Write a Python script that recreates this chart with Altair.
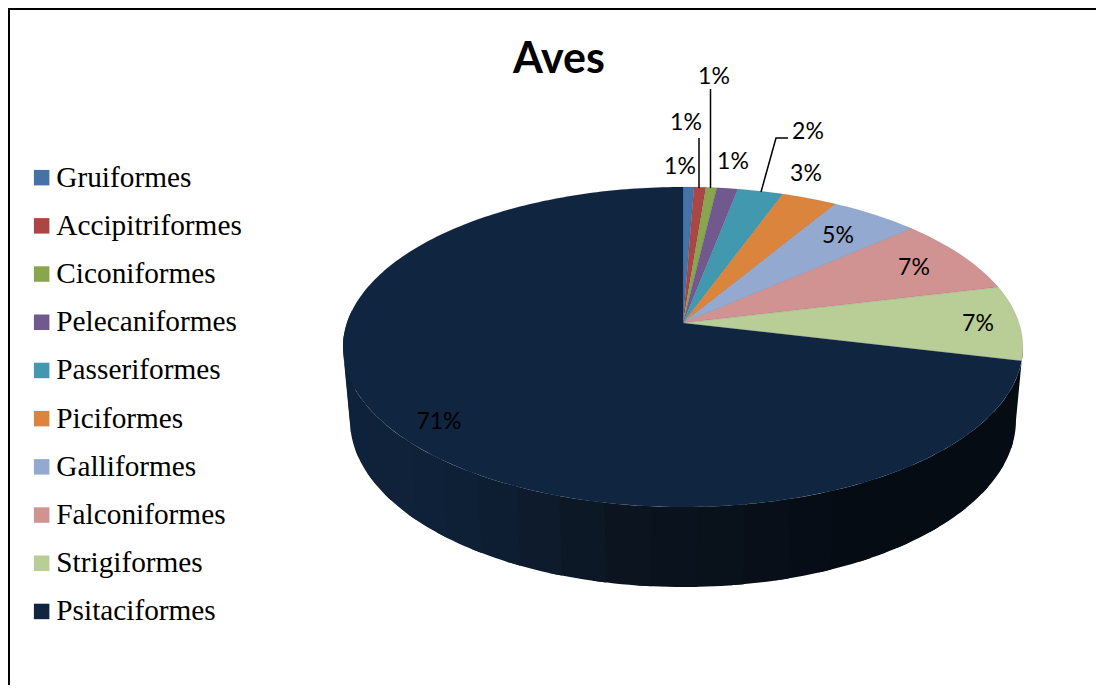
import math
import altair as alt

# ---- data ----
names = ["Gruiformes", "Accipitriformes", "Ciconiformes", "Pelecaniformes", "Passeriformes",
         "Piciformes", "Galliformes", "Falconiformes", "Strigiformes", "Psitaciformes"]
shares = [0.6, 0.65, 0.6, 1.15, 2.5, 3.05, 4.9, 7.75, 7.55, 71.25]
percent_labels = ["1%", "1%", "1%", "1%", "2%", "3%", "5%", "7%", "7%", "71%"]
colors = ["#4572A7", "#AA4643", "#89A54E", "#71588F", "#4198AF",
          "#DB843D", "#93A9CF", "#D19392", "#B9CD96", "#10253F"]
label_x = [680, 686, 714, 733, 808, 806, 838, 914, 978, 439]
label_y = [167, 123, 77, 162, 132, 174, 236, 268, 324, 422]
leaders = {"a": [(699, 188), (699, 138)],
           "b": [(710.5, 188), (710.5, 89)],
           "c": [(761, 192), (776, 138), (788, 138)]}
# side wall shades, from the right end of the wall round to its left end
wall_shades = ["#060c14", "#060c14", "#060c14", "#060c14", "#060c14", "#060c14",
               "#060c14", "#060c14", "#070d16", "#080f19", "#09111b", "#0a121d",
               "#0b141f", "#0c1825", "#0d1b2c", "#0e1e32", "#0e2036", "#0f2138",
               "#0f223a", "#0f223a", "#0f223b", "#0f223b", "#0f223b", "#0f223b"]

OFF = 8          # page margin
CX, CY = 683, 323  # apex of the pie on the page
A, B, K = 336, 156.4, 0.15  # perspective of the disc


def disc(frac):
    t = 2 * math.pi * frac
    u, v = math.sin(t), -math.cos(t)
    w = 1 - K * v
    return (CX + A * u / w - OFF, CY + B * v / w - OFF)


def arc_points(f0, f1):
    n = max(2, int(abs(f1 - f0) * 360))
    return [disc(f0 + (f1 - f0) * i / n) for i in range(n + 1)]


def feature(coords, **props):
    return {"type": "Feature", "properties": props,
            "geometry": {"type": "Polygon", "coordinates": [[list(p) for p in coords]]}}


total = sum(shares)
fracs = [sum(shares[:i]) / total for i in range(len(shares) + 1)]
slices = []
for i, name in enumerate(names):
    pts = [(CX - OFF, CY - OFF)] + arc_points(fracs[i], fracs[i + 1])
    slices.append(feature(pts + [pts[0]], name=name))


def ellipse(cy, rx, ry, frac):
    t = 2 * math.pi * frac
    return (683 + rx * math.sin(t) - OFF, cy - ry * math.cos(t) - OFF)


walls = []
segs = len(wall_shades)
for i, shade in enumerate(wall_shades):
    # each strip overlaps the next a little so that no seam shows
    f0 = 0.25 + (0.78 - 0.25) * i / segs
    f1 = 0.25 + (0.78 - 0.25) * (i + 1.3) / segs
    top = [ellipse(347, 340, 160, f0 + (f1 - f0) * j / 8) for j in range(9)]
    bot = [ellipse(420, 333, 167, f0 + (f1 - f0) * j / 8) for j in range(9)]
    poly = top + bot[::-1]
    walls.append(feature(poly + [poly[0]], shade=shade))

proj = alt.Projection(type="identity", scale=1, translate=[0, 0]).to_dict()

wall_layer = alt.Chart(alt.Data(values=walls)).mark_geoshape(strokeWidth=0).encode(
    fill=alt.Fill("properties.shade:N", scale=None),
).project(**proj)

slice_layer = alt.Chart(alt.Data(values=slices)).mark_geoshape(
    strokeWidth=0.3, stroke="#20304a", strokeOpacity=0.35
).encode(
    color=alt.Color("properties.name:N",
                    scale=alt.Scale(domain=names, range=colors),
                    legend=alt.Legend(orient="none", legendX=19, legendY=155, title=None,
                                      symbolType="square", symbolSize=240, symbolStrokeWidth=0,
                                      symbolOpacity=1, labelFont="Liberation Serif", labelFontSize=29.3,
                                      labelColor="#000000", labelLimit=300, labelOffset=0,
                                      rowPadding=18.2, columns=1, values=names)),
).project(**proj)

xs = alt.X("x:Q", scale=alt.Scale(domain=[0, 1088], range=[0, 1088]), axis=None)
ys = alt.Y("y:Q", scale=alt.Scale(domain=[0, 677], range=[0, 677]), axis=None)

label_rows = [{"x": x - OFF, "y": y - OFF, "t": t} for x, y, t in zip(label_x, label_y, percent_labels)]
label_layer = alt.Chart(alt.Data(values=label_rows)).mark_text(
    font="Lato", fontSize=23, color="#000000", baseline="middle", align="center"
).encode(x=xs, y=ys, text="t:N")

leader_rows = [{"x": x - OFF, "y": y - OFF, "k": k, "o": i}
               for k, pts in leaders.items() for i, (x, y) in enumerate(pts)]
leader_layer = alt.Chart(alt.Data(values=leader_rows)).mark_line(color="#000000", strokeWidth=1.5).encode(
    x=xs, y=ys, detail="k:N", order="o:Q")

title_layer = alt.Chart(alt.Data(values=[{"x": 559 - OFF, "y": 60 - OFF, "t": "Aves"}])).mark_text(
    font="Lato", fontSize=43, fontWeight="bold", color="#000000", baseline="middle", align="center"
).encode(x=xs, y=ys, text="t:N")

# the frame shows on the left and along the top only; right and bottom run off the picture
frame_rows = [{"x": 1, "y": 677, "o": 0}, {"x": 1, "y": 1, "o": 1}, {"x": 1088, "y": 1, "o": 2}]
frame_layer = alt.Chart(alt.Data(values=frame_rows)).mark_line(color="#000000", strokeWidth=2).encode(
    x=xs, y=ys, order="o:Q")

chart = alt.layer(wall_layer, slice_layer, leader_layer, label_layer, title_layer, frame_layer).resolve_scale(
    color="independent", fill="independent"
).properties(width=1088, height=677, padding=0, autosize=alt.AutoSizeParams(type="none"),
             background="#ffffff").configure_view(stroke=None)

chart.save("out.html", embed_options={"renderer": "svg", "actions": False})
